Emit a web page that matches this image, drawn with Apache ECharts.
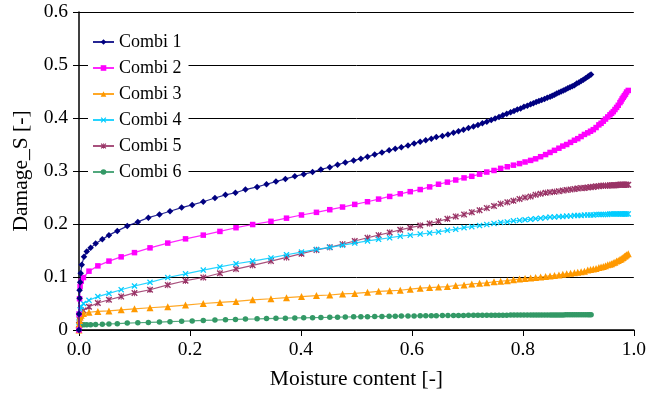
<!DOCTYPE html>
<html>
<head>
<meta charset="utf-8">
<script src="https://cdn.jsdelivr.net/npm/echarts@6/dist/echarts.min.js"></script>
<style>
  html, body { margin: 0; padding: 0; background: #fff; }
  #chart { width: 649px; height: 395px; }
</style>
</head>
<body>
<div id="chart"></div>
<script>
// Moisture content samples shared by Combi 1 and Combi 6
const moistureA = [
  0, 0, 0.001, 0.001, 0.002, 0.003, 0.005, 0.009, 0.014, 0.021,
  0.030, 0.042, 0.054, 0.069, 0.087, 0.106, 0.125, 0.145, 0.164, 0.185,
  0.204, 0.224, 0.245, 0.264, 0.282, 0.300, 0.321, 0.338, 0.355, 0.372,
  0.389, 0.405, 0.421, 0.436, 0.452, 0.466, 0.480, 0.495, 0.508, 0.520,
  0.533, 0.546, 0.559, 0.570, 0.581, 0.593, 0.604, 0.615, 0.625, 0.635,
  0.644, 0.655, 0.665, 0.675, 0.684, 0.693, 0.702, 0.711, 0.719, 0.727,
  0.735, 0.743, 0.750, 0.757, 0.764, 0.771, 0.778, 0.784, 0.790, 0.796,
  0.802, 0.808, 0.814, 0.819, 0.824, 0.829, 0.834, 0.839, 0.844, 0.849,
  0.853, 0.857, 0.861, 0.865, 0.869, 0.873, 0.877, 0.881, 0.885, 0.889,
  0.893, 0.897, 0.901, 0.905, 0.909, 0.913, 0.917, 0.920, 0.923
];

// Moisture content samples shared by Combi 2 - Combi 5
const moistureB = [
  0, 0, 0.001, 0.002, 0.004, 0.008, 0.018, 0.034, 0.054, 0.076,
  0.100, 0.128, 0.160, 0.192, 0.224, 0.254, 0.283, 0.313, 0.346, 0.374,
  0.401, 0.428, 0.452, 0.475, 0.497, 0.520, 0.540, 0.560, 0.579, 0.597,
  0.615, 0.632, 0.648, 0.664, 0.679, 0.694, 0.708, 0.722, 0.735, 0.748,
  0.760, 0.772, 0.783, 0.794, 0.804, 0.814, 0.823, 0.832, 0.841, 0.849,
  0.857, 0.865, 0.872, 0.879, 0.886, 0.893, 0.899, 0.905, 0.911, 0.917,
  0.922, 0.927, 0.932, 0.937, 0.941, 0.945, 0.949, 0.953, 0.957, 0.960,
  0.963, 0.966, 0.969, 0.972, 0.975, 0.977, 0.979, 0.981, 0.983, 0.985,
  0.987, 0.990
];

const damageCombi1 = [
  0, 0.030, 0.060, 0.075, 0.090, 0.107, 0.123, 0.138, 0.148, 0.155,
  0.163, 0.171, 0.179, 0.187, 0.196, 0.204, 0.212, 0.218, 0.224, 0.231,
  0.236, 0.242, 0.249, 0.255, 0.259, 0.265, 0.270, 0.275, 0.280, 0.285,
  0.290, 0.294, 0.298, 0.303, 0.307, 0.312, 0.316, 0.320, 0.323, 0.327,
  0.331, 0.335, 0.339, 0.342, 0.345, 0.348, 0.352, 0.355, 0.358, 0.361,
  0.364, 0.366, 0.369, 0.372, 0.375, 0.378, 0.381, 0.384, 0.387, 0.390,
  0.393, 0.396, 0.399, 0.402, 0.405, 0.408, 0.411, 0.413, 0.416, 0.418,
  0.421, 0.423, 0.426, 0.428, 0.430, 0.432, 0.434, 0.436, 0.438, 0.440,
  0.442, 0.444, 0.446, 0.448, 0.450, 0.452, 0.454, 0.456, 0.458, 0.460,
  0.462, 0.465, 0.467, 0.470, 0.472, 0.475, 0.478, 0.480, 0.482
];

const damageCombi2 = [
  0, 0.030, 0.059, 0.082, 0.092, 0.099, 0.111, 0.121, 0.130, 0.138,
  0.146, 0.155, 0.164, 0.172, 0.179, 0.186, 0.193, 0.199, 0.205, 0.211,
  0.217, 0.222, 0.227, 0.232, 0.237, 0.242, 0.247, 0.252, 0.257, 0.261,
  0.265, 0.270, 0.275, 0.279, 0.283, 0.287, 0.290, 0.294, 0.298, 0.301,
  0.305, 0.308, 0.311, 0.314, 0.317, 0.320, 0.323, 0.327, 0.331, 0.335,
  0.339, 0.343, 0.347, 0.350, 0.354, 0.358, 0.361, 0.365, 0.369, 0.372,
  0.375, 0.378, 0.382, 0.387, 0.390, 0.394, 0.398, 0.402, 0.406, 0.409,
  0.412, 0.416, 0.420, 0.424, 0.429, 0.432, 0.436, 0.439, 0.442, 0.445,
  0.449, 0.452
];

const damageCombi3 = [
  0, 0.010, 0.018, 0.024, 0.028, 0.031, 0.0335, 0.035, 0.036, 0.038,
  0.040, 0.042, 0.044, 0.047, 0.050, 0.052, 0.054, 0.057, 0.059, 0.061,
  0.063, 0.065, 0.066, 0.068, 0.069, 0.071, 0.073, 0.074, 0.075, 0.077,
  0.079, 0.080, 0.081, 0.082, 0.084, 0.085, 0.087, 0.088, 0.089, 0.091,
  0.092, 0.093, 0.095, 0.096, 0.097, 0.098, 0.099, 0.100, 0.101, 0.102,
  0.103, 0.104, 0.105, 0.106, 0.107, 0.108, 0.109, 0.110, 0.111, 0.113,
  0.114, 0.115, 0.116, 0.118, 0.119, 0.120, 0.121, 0.123, 0.124, 0.125,
  0.127, 0.128, 0.130, 0.131, 0.133, 0.134, 0.136, 0.137, 0.139, 0.140,
  0.142, 0.144
];

const damageCombi4 = [
  0, 0.015, 0.030, 0.038, 0.044, 0.050, 0.056, 0.063, 0.069, 0.076,
  0.083, 0.090, 0.099, 0.106, 0.113, 0.119, 0.125, 0.130, 0.136, 0.142,
  0.147, 0.152, 0.156, 0.160, 0.164, 0.168, 0.171, 0.174, 0.177, 0.179,
  0.181, 0.183, 0.185, 0.188, 0.190, 0.193, 0.195, 0.197, 0.199, 0.201,
  0.203, 0.204, 0.206, 0.207, 0.208, 0.209, 0.210, 0.211, 0.212, 0.213,
  0.213, 0.214, 0.214, 0.215, 0.215, 0.216, 0.216, 0.216, 0.217, 0.217,
  0.217, 0.217, 0.218, 0.218, 0.218, 0.218, 0.218, 0.218, 0.219, 0.219,
  0.219, 0.219, 0.219, 0.219, 0.219, 0.219, 0.219, 0.219, 0.219, 0.219,
  0.219, 0.219
];

const damageCombi5 = [
  0, 0.010, 0.019, 0.025, 0.030, 0.037, 0.044, 0.051, 0.057, 0.063,
  0.070, 0.076, 0.085, 0.093, 0.099, 0.107, 0.115, 0.122, 0.130, 0.137,
  0.144, 0.151, 0.156, 0.162, 0.168, 0.174, 0.179, 0.184, 0.189, 0.193,
  0.197, 0.201, 0.205, 0.210, 0.214, 0.218, 0.222, 0.226, 0.230, 0.234,
  0.238, 0.241, 0.244, 0.247, 0.250, 0.252, 0.255, 0.257, 0.259, 0.260,
  0.261, 0.262, 0.263, 0.264, 0.265, 0.266, 0.267, 0.268, 0.268, 0.269,
  0.270, 0.270, 0.271, 0.271, 0.272, 0.272, 0.272, 0.272, 0.273, 0.273,
  0.273, 0.273, 0.273, 0.274, 0.274, 0.274, 0.274, 0.274, 0.274, 0.274,
  0.274, 0.274
];

const damageCombi6 = [
  0, 0.003, 0.006, 0.008, 0.009, 0.0095, 0.0098, 0.010, 0.010, 0.010,
  0.0103, 0.0107, 0.0115, 0.012, 0.013, 0.0137, 0.0143, 0.015, 0.0157, 0.0165,
  0.0172, 0.018, 0.0188, 0.0195, 0.020, 0.0207, 0.021, 0.0215, 0.022, 0.0224,
  0.0228, 0.023, 0.0233, 0.0236, 0.024, 0.0242, 0.0245, 0.0248, 0.025, 0.0252,
  0.0254, 0.0256, 0.0258, 0.026, 0.0262, 0.0264, 0.0265, 0.0267, 0.0268, 0.027,
  0.0271, 0.0272, 0.0273, 0.0274, 0.0275, 0.0275, 0.0276, 0.0277, 0.0277, 0.0278,
  0.0278, 0.0279, 0.0279, 0.028, 0.028, 0.028, 0.0281, 0.0281, 0.0281, 0.0282,
  0.0282, 0.0282, 0.0283, 0.0283, 0.0283, 0.0283, 0.0284, 0.0284, 0.0284, 0.0284,
  0.0285, 0.0285, 0.0285, 0.0285, 0.0285, 0.0285, 0.0286, 0.0286, 0.0286, 0.0286,
  0.0286, 0.0286, 0.0286, 0.0287, 0.0287, 0.0287, 0.0287, 0.0287, 0.0287
];

const seriesNames = ['Combi 1', 'Combi 2', 'Combi 3', 'Combi 4', 'Combi 5', 'Combi 6'];
const xTicks = [0, 0.2, 0.4, 0.6, 0.8, 1.0];
const yTicks = [0, 0.1, 0.2, 0.3, 0.4, 0.5, 0.6];

const FONT = '"Liberation Serif", "Times New Roman", serif';

// Marker shapes: a filled cross, and a cross with a vertical bar
const CROSS = 'path://M1.5,0L5,3.5L8.5,0L10,1.5L6.5,5L10,8.5L8.5,10L5,6.5L1.5,10L0,8.5L3.5,5L0,1.5Z';
const STAR = 'path://M1.5,0L5,3.5L8.5,0L10,1.5L6.5,5L10,8.5L8.5,10L5,6.5L1.5,10L0,8.5L3.5,5L0,1.5Z' +
             'M4.35,0L5.65,0L5.65,10L4.35,10Z';

const styles = [
  { color: '#000080', symbol: 'diamond', size: 6.5 },
  { color: '#FF00FF', symbol: 'rect', size: 5.5 },
  { color: '#FF9900', symbol: 'triangle', size: 7 },
  { color: '#00CCFF', symbol: CROSS, size: 6 },
  { color: '#993366', symbol: STAR, size: 6.5 },
  { color: '#339966', symbol: 'circle', size: 5.5 }
];

function pairs(xs, ys) {
  const n = Math.min(xs.length, ys.length);
  const out = [];
  for (let i = 0; i < n; i++) out.push([xs[i], ys[i]]);
  return out;
}

const seriesData = [
  pairs(moistureA, damageCombi1),
  pairs(moistureB, damageCombi2),
  pairs(moistureB, damageCombi3),
  pairs(moistureB, damageCombi4),
  pairs(moistureB, damageCombi5),
  pairs(moistureA, damageCombi6)
];

const chart = echarts.init(document.getElementById('chart'), null, { renderer: 'canvas' });

chart.setOption({
  animation: false,
  backgroundColor: '#ffffff',
  grid: { left: 79, right: 9, top: 12, bottom: 62, containLabel: false },
  legend: {
    orient: 'vertical',
    left: 88,
    top: 27,
    padding: [6, 7, 6, 4],
    itemGap: 8,
    itemWidth: 21,
    itemHeight: 7,
    backgroundColor: '#ffffff',
    textStyle: { fontFamily: FONT, fontSize: 18, color: '#000' },
    data: seriesNames
  },
  xAxis: {
    type: 'value',
    min: xTicks[0],
    max: xTicks[xTicks.length - 1],
    interval: 0.2,
    name: 'Moisture content [-]',
    nameLocation: 'middle',
    nameGap: 38,
    nameTextStyle: { fontFamily: FONT, fontSize: 21.5, color: '#000' },
    axisLine: { lineStyle: { color: '#000', width: 1.5 } },
    axisTick: { show: true, inside: false, length: 6, lineStyle: { color: '#000', width: 1 } },
    axisLabel: {
      fontFamily: FONT, fontSize: 19.5, color: '#000', margin: 10,
      formatter: v => v.toFixed(1)
    },
    splitLine: { show: false }
  },
  yAxis: {
    type: 'value',
    min: yTicks[0],
    max: yTicks[yTicks.length - 1],
    interval: 0.1,
    name: 'Damage_S [-]',
    nameLocation: 'middle',
    nameGap: 47,
    nameTextStyle: { fontFamily: FONT, fontSize: 21.5, color: '#000' },
    axisLine: { show: true, lineStyle: { color: '#000', width: 1.5 } },
    axisTick: { show: true, inside: false, length: 6, lineStyle: { color: '#000', width: 1 } },
    axisLabel: {
      fontFamily: FONT, fontSize: 19.5, color: '#000', margin: 11,
      formatter: v => (v === 0 ? '0' : v.toFixed(1))
    },
    splitLine: { show: true, lineStyle: { color: '#000', width: 1 } }
  },
  series: seriesNames.map((name, i) => ({
    name: name,
    type: 'line',
    data: seriesData[i],
    symbol: styles[i].symbol,
    symbolSize: styles[i].size,
    showSymbol: true,
    lineStyle: { color: styles[i].color, width: 1.2, opacity: 0.85 },
    itemStyle: { color: styles[i].color },
    emphasis: { disabled: true },
    z: 2 + (6 - i) * 0.01
  }))
});
</script>
</body>
</html>
